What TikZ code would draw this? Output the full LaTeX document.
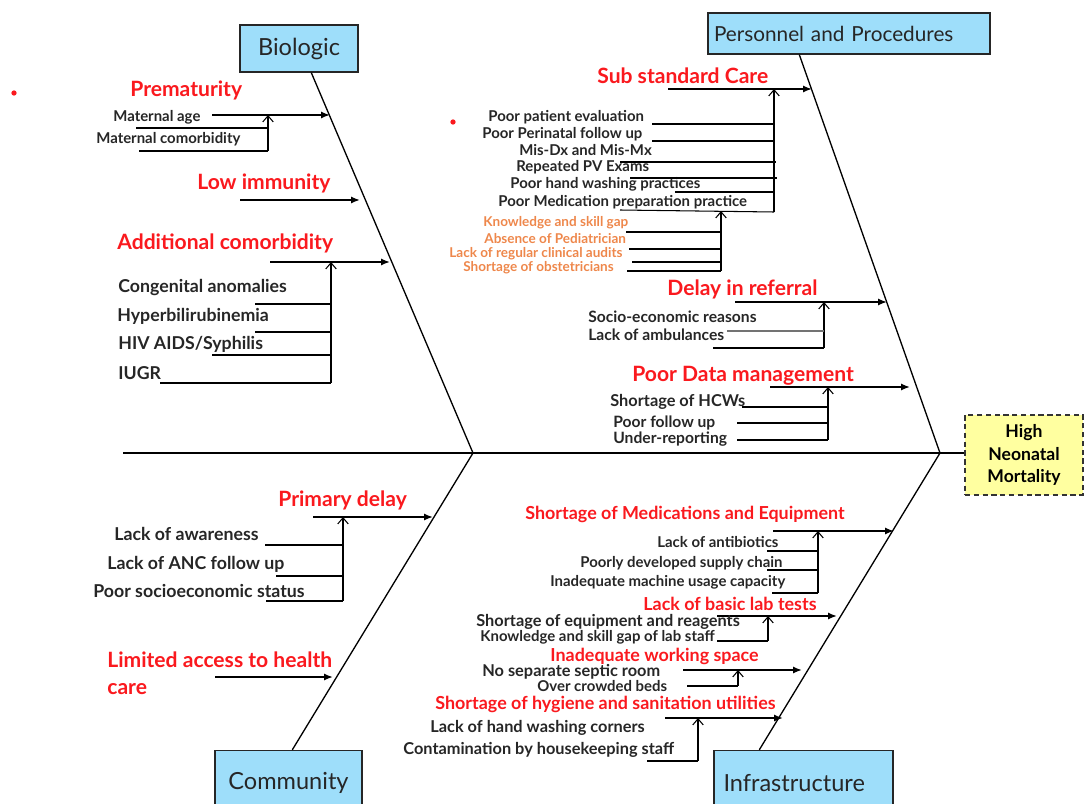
\documentclass[tikz,border=0pt]{standalone}
\usepackage{fontspec}
\setmainfont{Lato}
\usetikzlibrary{arrows.meta,calc}
\definecolor{causered}{RGB}{250,25,30}
\definecolor{subor}{RGB}{238,135,75}
\definecolor{catblue}{RGB}{158,222,250}
\definecolor{effyel}{RGB}{255,255,160}
\begin{document}
\begin{tikzpicture}[x=0.02cm,y=-0.02cm,
  cat/.style={draw=black!85, fill=catblue, line width=0.8pt, inner sep=0,
    font=\fontsize{13.4}{15}\selectfont, text=black!85},
  effect/.style={draw=black!80, densely dashed, fill=effyel, line width=0.6pt,
    minimum width=2.36cm, minimum height=1.6cm, align=center,
    font=\bfseries\fontsize{10}{12.8}\selectfont},
  head/.style={anchor=west, inner sep=0, text=causered, font=\bfseries\fontsize{12}{15.3}\selectfont},
  headsm/.style={head, font=\bfseries\fontsize{10.2}{12}\selectfont},
  itemL/.style={anchor=west, inner sep=0, text=black!85, font=\bfseries\fontsize{10.1}{11}\selectfont},
  itemS/.style={anchor=west, inner sep=0, text=black!85, font=\bfseries\fontsize{8.5}{9}\selectfont},
  itemM/.style={itemS, font=\bfseries\fontsize{8.9}{9}\selectfont},
  itemW/.style={itemS, font=\bfseries\fontsize{9.3}{10}\selectfont},
  itemO/.style={anchor=west, inner sep=0, text=subor, font=\bfseries\fontsize{7.7}{8}\selectfont},
  spine/.style={line width=1.3pt},
  bone/.style={line width=0.75pt},
  cause/.style={line width=1.0pt, -{Latex[length=5pt,width=4pt]}},
  riser/.style={line width=0.6pt, -{Straight Barb[length=3.5pt,width=6pt]}},
  twig/.style={line width=0.6pt},
  bullet/.style={circle, fill=causered, inner sep=0, minimum size=3pt}
]
\useasboundingbox (0,0) rectangle (1086,804);

% ---- category boxes and effect ----
\node[cat, minimum width=2.36cm, minimum height=0.94cm] (bio) at (299,48.5) {Biologic};
\node[cat, minimum width=5.64cm, minimum height=0.82cm, text width=5.4cm,
  font=\fontsize{11.8}{14}\selectfont] (pp) at (849,33.5) {Personnel and Procedures};
\node[cat, minimum width=2.94cm, minimum height=1.3cm] (com) at (288.5,783) {Community};
\node[cat, minimum width=3.58cm, minimum height=1.3cm, text width=3.2cm] (inf) at (803.5,783) {Infrastructure};
\node[effect] (eff) at (1024,455) {High\\Neonatal\\Mortality};

% ---- spine and bones ----
\coordinate (tail) at (123,453);
\coordinate (j1) at (473,453);
\coordinate (j2) at (940,453);
\draw[spine] (tail) -- (tail -| eff.west);
\draw[bone] ($(bio.south west)+(72,0)$) -- (j1);
\draw[bone] ($(pp.south west)+(92,0)$) -- (j2);
\draw[bone] ($(com.north west)+(78,0)$) -- (j1);
\draw[bone] ($(inf.north west)+(46,0)$) -- (j2);

\node[bullet] (b1) at (14,93) {};
\node[bullet] (b2) at (453,122) {};

% ---- Biologic ----
\node[head] (prem) at (130,90) {Prematurity};
\draw[cause] (212,115) coordinate (premS) -- (330,115) coordinate (premT);
\node[itemS] (matage) at (113,117) {Maternal age};
\node[itemS] (matcom) at (96,139) {Maternal comorbidity};
\coordinate (premV) at (268,151);
\draw[riser] (premV) -- (premV |- premS);
\draw[twig] (136,128) -- (268,128);
\draw[twig] (139,151) -- (premV);

\node[head] (lowim) at (197,183) {Low immunity};
\draw[cause] (240,200) coordinate (lowS) -- (360,200) coordinate (lowT);

\node[head] (addcom) at (117,243) {Additional comorbidity};
\draw[cause] (270,262) coordinate (addS) -- (390,262) coordinate (addT);
\coordinate (addV) at (331,383);
\draw[riser] (addV) -- (addV |- addS);
\node[itemL] (cong) at (118,288) {Congenital anomalies};
\node[itemL] (hyper) at (117,316) {Hyperbilirubinemia};
\node[itemL] (hiv) at (118,344) {HIV AIDS/Syphilis};
\node[itemL] (iugr) at (118,373) {IUGR};
\draw[twig] (255,304) -- (331,304);
\draw[twig] (255,332) -- (331,332);
\draw[twig] (212,355) -- (331,355);
\draw[twig] (160,383) -- (addV);

% ---- Personnel and Procedures ----
\node[head] (ssc) at (597,76) {Sub standard Care};
\draw[cause] (668,89) coordinate (sscS) -- (812,89) coordinate (sscT);
\coordinate (sscV) at (774,212);
\draw[riser] (sscV) -- (sscV |- sscS);
\node[itemS] (ppe) at (488,117) {Poor patient evaluation};
\node[itemS] (ppf) at (482,134) {Poor Perinatal follow up};
\node[itemS] (misdx) at (519,150) {Mis-Dx and Mis-Mx};
\node[itemS] (rpv) at (516,167) {Repeated PV Exams};
\node[itemS] (phw) at (510,184) {Poor hand washing practices};
\node[itemS] (pmp) at (498,202) {Poor Medication preparation practice};
\draw[twig] (652,124) -- (774,124);
\draw[twig] (652,141) -- (774,141);
\draw[twig] (620,162) -- (776,162);
\draw[twig] (630,178) -- (777,178);
\draw[twig] (675,192) -- (774,192);
\draw[twig] (620,210) -- (sscV);

\coordinate (ksgV) at (721,271);
\draw[riser] (ksgV) -- (721,211);
\node[itemO] (ksg) at (483,223) {Knowledge and skill gap};
\node[itemO] (abp) at (484,239) {Absence of Pediatrician};
\node[itemO] (lrca) at (449,254) {Lack of regular clinical audits};
\node[itemO] (sobs) at (463,268) {Shortage of obstetricians};
\draw[twig] (626,232) -- (721,232);
\draw[twig] (629,249) -- (721,249);
\draw[twig] (632,262) -- (721,262);
\draw[twig] (627,271) -- (ksgV);

\node[head] (dir) at (667,289) {Delay in referral};
\draw[cause] (735,302) coordinate (dirS) -- (887,302) coordinate (dirT);
\coordinate (dirV) at (824,348);
\draw[riser] (dirV) -- (dirV |- dirS);
\node[itemM] (ser) at (588,317) {Socio-economic reasons};
\node[itemM] (loa) at (588,335) {Lack of ambulances};
\draw[twig, black!55] (727,331) -- (824,331);
\draw[twig] (713,348) -- (dirV);

\node[head] (pdm) at (632,376) {Poor Data management};
\draw[cause] (770,387) coordinate (pdmS) -- (910,387) coordinate (pdmT);
\coordinate (pdmV) at (828,440);
\draw[riser] (pdmV) -- (pdmV |- pdmS);
\node[itemW] (shcw) at (610,402) {Shortage of HCWs};
\node[itemM] (pfu) at (613,423) {Poor follow up};
\node[itemM] (urep) at (613,439) {Under-reporting};
\draw[twig] (742,407) -- (828,407);
\draw[twig] (737,423) -- (828,423);
\draw[twig] (737,440) -- (pdmV);

% ---- Community ----
\node[head] (prim) at (278,500) {Primary delay};
\draw[cause] (313,517) coordinate (primS) -- (433,517) coordinate (primT);
\coordinate (primV) at (343,601);
\draw[riser] (primV) -- (primV |- primS);
\node[itemL] (loaw) at (114,534) {Lack of awareness};
\node[itemL] (lanc) at (107,564) {Lack of ANC follow up};
\node[itemL] (pses) at (93,591) {Poor socioeconomic status};
\draw[twig] (265,545) -- (343,545);
\draw[twig] (276,576) -- (343,576);
\draw[twig] (266,601) -- (primV);

\node[head, align=left] (lim) at (107,673.5) {Limited access to health\\care};
\draw[cause] (215,677) coordinate (limS) -- (333,677) coordinate (limT);

% ---- Infrastructure ----
\node[headsm] (smeds) at (525,514) {Shortage of Medications and Equipment};
\draw[cause] (773,531) coordinate (smS) -- (894,531) coordinate (smT);
\coordinate (smV) at (818,593);
\draw[riser] (smV) -- (smV |- smS);
\node[itemS] (lab1) at (657,542) {Lack of antibiotics};
\node[itemS] (pdsc) at (580,563) {Poorly developed supply chain};
\node[itemS] (imuc) at (550,582) {Inadequate machine usage capacity};
\draw[twig] (767,551) -- (818,551);
\draw[twig] (767,570) -- (818,570);
\draw[twig] (772,593) -- (smV);

\node[headsm] (lab) at (643,604) {Lack of basic lab tests};
\draw[cause] (717,616) coordinate (labS) -- (837,616) coordinate (labT);
\coordinate (labV) at (768,641);
\draw[riser] (labV) -- (labV |- labS);
\node[itemW] (sear) at (476,622) {Shortage of equipment and reagents};
\node[itemS] (ksgl) at (480,637) {Knowledge and skill gap of lab staff};
\draw[twig] (717,641) -- (labV);

\node[headsm] (iws) at (550,656) {Inadequate working space};
\draw[cause] (683,670) coordinate (iwsS) -- (802,670) coordinate (iwsT);
\coordinate (iwsV) at (738,686);
\draw[riser] (iwsV) -- (iwsV |- iwsS);
\node[itemW] (nssr) at (482,672) {No separate septic room};
\node[itemS] (ocb) at (537,686) {Over crowded beds};
\draw[twig] (687,686) -- (iwsV);

\node[headsm] (hyg) at (435,704) {Shortage of hygiene and sanitation utilities};
\draw[cause] (665,718) coordinate (hygS) -- (783,718) coordinate (hygT);
\coordinate (hygV) at (698,761);
\draw[riser] (hygV) -- (hygV |- hygS);
\node[itemW] (lhwc) at (430,728) {Lack of hand washing corners};
\node[itemW] (cbhs) at (403,750) {Contamination by housekeeping staff};
\draw[twig] (647,761) -- (hygV);
\end{tikzpicture}
\end{document}
